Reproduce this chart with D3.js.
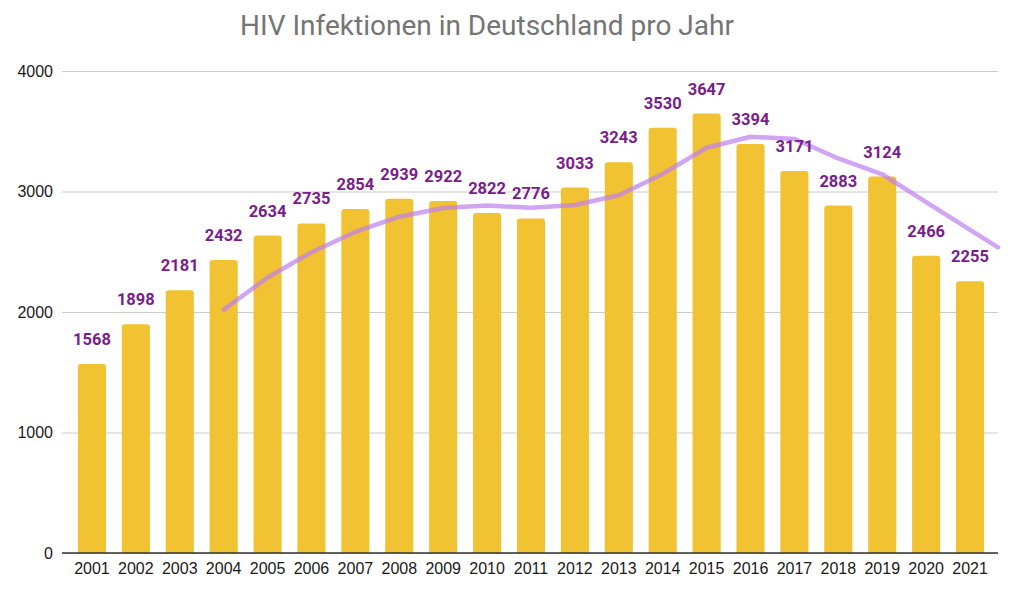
<!DOCTYPE html>
<html>
<head>
<meta charset="utf-8">
<script src="https://cdn.jsdelivr.net/npm/d3@7"></script>
<style>
  body { margin: 0; background: #fff; }
  svg { display: block; }
</style>
</head>
<body>
<svg width="1018" height="592"></svg>
<script>
const years = ['2001', '2002', '2003', '2004', '2005', '2006', '2007', '2008', '2009', '2010', '2011',
    '2012', '2013', '2014', '2015', '2016', '2017', '2018', '2019', '2020', '2021'];
const infections = [1568, 1898, 2181, 2432, 2634, 2735, 2854, 2939, 2922, 2822, 2776,
    3033, 3243, 3530, 3647, 3394, 3171, 2883, 3124, 2466, 2255];
// trend line (moving average), starts 2004
const trendYears = ['2004', '2005', '2006', '2007', '2008', '2009', '2010', '2011', '2012',
    '2013', '2014', '2015', '2016', '2017', '2018', '2019', '2020', '2021'];
const trend = [2020, 2286, 2496, 2664, 2791, 2863, 2884, 2865, 2888,
    2969, 3146, 3363, 3454, 3436, 3274, 3143, 2911, 2682];
const yTicks = [0, 1000, 2000, 3000, 4000];

const svg = d3.select('svg');
const plotLeft = 62, plotRight = 998, plotTop = 71, plotBottom = 553;

const x = d3.scaleBand()
    .domain(years)
    .range([70, 992])
    .paddingInner(0.36)
    .paddingOuter(0.18);

const y = d3.scaleLinear()
    .domain([0, 4000])
    .range([plotBottom, plotTop]);

// title
svg.append('text')
    .attr('x', 487)
    .attr('y', 35)
    .attr('text-anchor', 'middle')
    .attr('font-family', 'Roboto, sans-serif')
    .attr('font-size', 28)
    .attr('fill', '#757575')
    .text('HIV Infektionen in Deutschland pro Jahr');

// gridlines + y labels
const yAxis = svg.append('g')
    .attr('transform', `translate(${plotLeft},0)`)
    .call(d3.axisLeft(y).tickValues(yTicks).tickSize(-(plotRight - plotLeft)).tickPadding(9).tickFormat(d3.format('d')));
yAxis.select('.domain').remove();
yAxis.selectAll('.tick line').attr('stroke', '#cccccc');
yAxis.selectAll('.tick text')
    .attr('font-family', '"Liberation Sans", Arial, sans-serif')
    .attr('font-size', 16)
    .attr('fill', '#1a1a1a');

// bars
const bw = x.bandwidth();
svg.append('g')
    .selectAll('path')
    .data(infections)
    .join('path')
    .attr('fill', '#f1c232')
    .attr('d', (d, i) => {
        const x0 = x(years[i]), y0 = y(d), r = 3;
        return `M${x0},${plotBottom}V${y0 + r}Q${x0},${y0} ${x0 + r},${y0}H${x0 + bw - r}Q${x0 + bw},${y0} ${x0 + bw},${y0 + r}V${plotBottom}Z`;
    });

// baseline
svg.append('line')
    .attr('x1', plotLeft).attr('x2', plotRight)
    .attr('y1', y(0)).attr('y2', y(0))
    .attr('stroke', '#333').attr('stroke-width', 1.5);

// trend line, last segment carried on to the plot edge
const pts = trend.map((d, i) => [x(trendYears[i]) + bw / 2, y(d)]);
const a = pts[pts.length - 2], b = pts[pts.length - 1];
const slope = (b[1] - a[1]) / (b[0] - a[0]);
pts.push([plotRight, b[1] + slope * (plotRight - b[0])]);
svg.append('path')
    .attr('d', d3.line()(pts))
    .attr('fill', 'none')
    .attr('stroke', '#bf7ff0')
    .attr('stroke-opacity', 0.7)
    .attr('stroke-width', 4.5)
    .attr('stroke-linejoin', 'round')
    .attr('stroke-linecap', 'round');

// value labels
svg.append('g')
    .selectAll('text')
    .data(infections)
    .join('text')
    .attr('x', (d, i) => x(years[i]) + bw / 2)
    .attr('y', d => y(d) - 19)
    .attr('text-anchor', 'middle')
    .attr('font-family', 'Roboto, sans-serif')
    .attr('font-weight', 'bold')
    .attr('font-size', 16.5)
    .attr('fill', '#7a1d8a')
    .text(d => d);

// x labels
const xAxis = svg.append('g')
    .attr('transform', `translate(0,${plotBottom})`)
    .call(d3.axisBottom(x).tickSize(0).tickPadding(10));
xAxis.select('.domain').remove();
xAxis.selectAll('.tick text')
    .attr('font-family', '"Liberation Sans", Arial, sans-serif')
    .attr('font-size', 16)
    .attr('fill', '#1a1a1a');
</script>
</body>
</html>
